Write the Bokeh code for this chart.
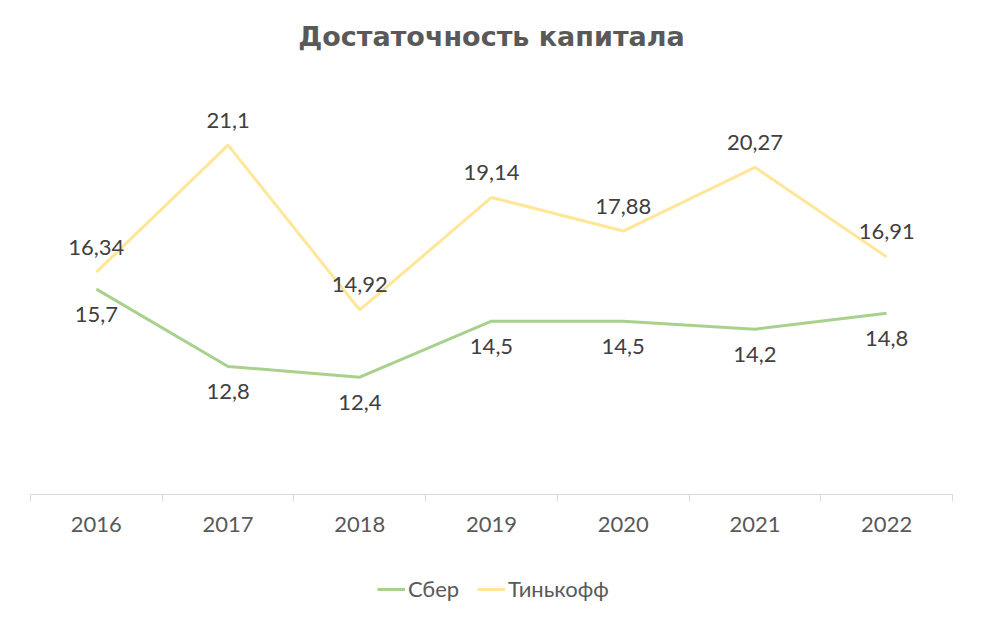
from bokeh.plotting import figure
from bokeh.layouts import column
from bokeh.models import (ColumnDataSource, Range1d, FixedTicker, LabelSet,
                          Label, Legend, LegendItem)
from bokeh.core.properties import value
from bokeh.embed import file_html
from bokeh.resources import INLINE

years = ["2016", "2017", "2018", "2019", "2020", "2021", "2022"]
sber = [15.7, 12.8, 12.4, 14.5, 14.5, 14.2, 14.8]
tinkoff = [16.34, 21.1, 14.92, 19.14, 17.88, 20.27, 16.91]

title_text = "Достаточность капитала"
series_names = ["Сбер", "Тинькофф"]
colors = ["#a9d18e", "#ffe699"]

centers = [i + 0.5 for i in range(len(years))]
bounds = [float(i) for i in range(len(years) + 1)]

def fmt(v):
    return ("%g" % v).replace(".", ",")

src = ColumnDataSource(dict(
    x=centers, sber=sber, tinkoff=tinkoff,
    sber_lbl=[fmt(v) for v in sber],
    tink_lbl=[fmt(v) for v in tinkoff],
))

def strip(h, xr=(0, 1)):
    f = figure(width=982, height=h, output_backend="svg", toolbar_location=None,
               x_range=Range1d(*xr), y_range=Range1d(0, 1),
               x_axis_location=None, y_axis_location=None,
               min_border_left=0, min_border_right=0, min_border_top=0,
               min_border_bottom=0)
    f.outline_line_color = None
    f.grid.visible = False
    return f

# header with the chart title (frames in the column are aligned with the chart's)
head = strip(94)
head.add_layout(Label(x=461, y=58, x_units="screen", y_units="screen",
                     text=title_text, text_align="center", text_baseline="middle",
                     text_font="DejaVu Sans", text_font_style="bold",
                     text_font_size="27px", text_color="#595959"))

# main chart
p = figure(width=982, height=462, output_backend="svg", toolbar_location=None,
           x_range=Range1d(0, len(years)), y_range=Range1d(8, 23),
           y_axis_location=None,
           min_border_left=30, min_border_right=30, min_border_top=0,
           min_border_bottom=62)
p.outline_line_color = None
p.xgrid.grid_line_color = None
p.ygrid.grid_line_color = None

ax = p.xaxis[0]
ax.ticker = FixedTicker(ticks=centers, minor_ticks=bounds)
ax.major_label_overrides = {c: y for c, y in zip(centers, years)}
ax.major_tick_line_color = None
ax.major_tick_in = 0
ax.major_tick_out = 0
ax.minor_tick_in = 0
ax.minor_tick_out = 7
ax.minor_tick_line_color = "#d9d9d9"
ax.axis_line_color = "#d9d9d9"
ax.major_label_text_font = "Lato"
ax.major_label_text_font_size = "22px"
ax.major_label_text_color = "#595959"
ax.major_label_standoff = 15

p.line("x", "sber", source=src, line_color=colors[0], line_width=3)
p.line("x", "tinkoff", source=src, line_color=colors[1], line_width=3)

p.add_layout(LabelSet(x="x", y="tinkoff", text="tink_lbl", source=src,
                      y_offset=25, text_align="center", text_baseline="middle",
                      text_font=value("Lato"), text_font_size=value("22px"),
                      text_color="#404040"))
p.add_layout(LabelSet(x="x", y="sber", text="sber_lbl", source=src,
                      y_offset=-25, text_align="center", text_baseline="middle",
                      text_font=value("Lato"), text_font_size=value("22px"),
                      text_color="#404040"))

# legend strip below the chart (series lie outside this strip's view)
q = strip(76, xr=(100, 101))
l_s = q.line("x", "sber", source=src, line_color=colors[0], line_width=3)
l_t = q.line("x", "tinkoff", source=src, line_color=colors[1], line_width=3)
legend = Legend(items=[LegendItem(label=series_names[0], renderers=[l_s]),
                       LegendItem(label=series_names[1], renderers=[l_t])],
                orientation="horizontal", location=(347, 30),
                label_text_font="Lato", label_text_font_size="22px",
                label_text_color="#595959", glyph_width=28, label_standoff=3,
                spacing=18, padding=0, margin=0,
                border_line_color=None, background_fill_color=None)
q.add_layout(legend, "center")

layout = column(head, p, q, spacing=0)
open("out.html", "w").write(file_html(layout, INLINE))
